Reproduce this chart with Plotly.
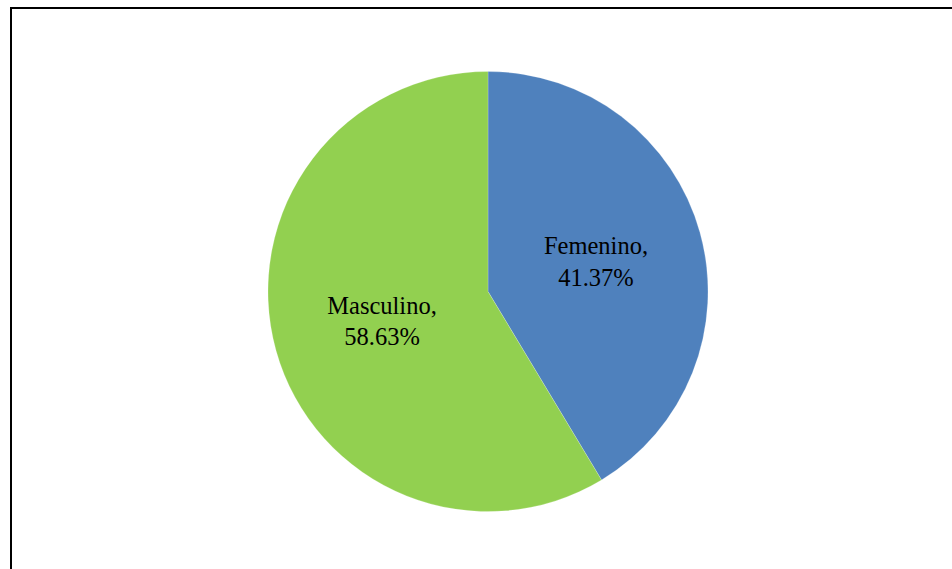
import plotly.graph_objects as go

labels = ["Femenino", "Masculino"]
values = [41.37, 58.63]
colors = ["#4F81BD", "#92D050"]

W, H = 952, 569
cx, cy, r = 488, 291.5, 220

fig = go.Figure(go.Pie(
    labels=labels,
    values=values,
    sort=False,
    direction="clockwise",
    rotation=0,
    marker=dict(colors=colors, line=dict(color="rgba(255,255,255,0.4)", width=0.5)),
    texttemplate="%{label},<br>%{percent:.2%}",
    textposition="inside",
    insidetextorientation="horizontal",
    textfont=dict(family="Liberation Serif", size=24.5, color="black"),
    hoverinfo="label+percent",
    showlegend=False,
    domain=dict(x=[(cx - r) / W, (cx + r) / W],
                y=[(H - cy - r) / H, (H - cy + r) / H]),
))

fig.add_shape(type="rect", xref="paper", yref="paper",
              x0=11 / W, x1=1.02, y0=-0.02, y1=1 - 8 / H,
              line=dict(color="black", width=2), fillcolor="rgba(0,0,0,0)")

fig.update_layout(
    width=W, height=H,
    margin=dict(l=0, r=0, t=0, b=0),
    paper_bgcolor="white",
    plot_bgcolor="white",
    uniformtext=dict(minsize=10, mode="show"),
)

fig.write_html(
    "out.html",
    config={"displayModeBar": False},
    post_script="document.body.style.margin='0';document.body.style.overflow='hidden';",
)
